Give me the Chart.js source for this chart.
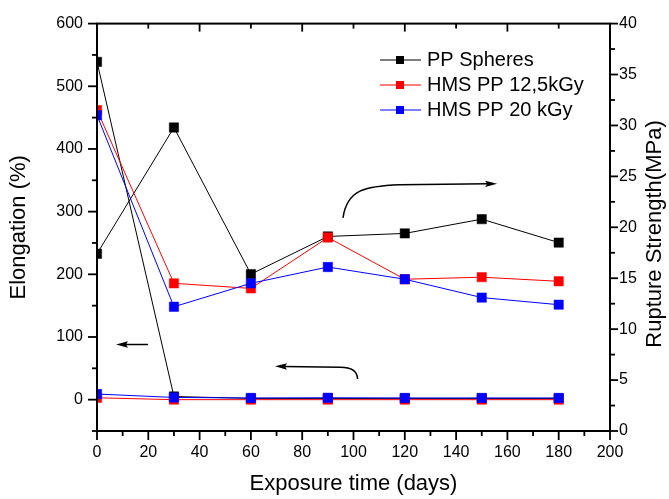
<!DOCTYPE html>
<html>
<head>
<meta charset="utf-8">
<script src="https://cdn.jsdelivr.net/npm/chart.js@4.4.1/dist/chart.umd.min.js"></script>
<style>
    html, body { margin: 0; padding: 0; background: #fff; }
    #wrap { width: 669px; height: 499px; }
</style>
</head>
<body>
<div id="wrap"><canvas id="chart" width="669" height="499"></canvas></div>
<script>
const days = [0, 30, 60, 90, 120, 150, 180];
const materials = ['PP Spheres', 'HMS PP 12,5kGy', 'HMS PP 20 kGy'];
const lineColors = ['#000000', '#ff0000', '#0000ff'];

// Elongation (%), left axis
const elongPP = [539, 5, 2, 2, 2, 2, 2];
const elongHms125 = [3, 0, 0, 0, 0, 0, 0];
const elongHms20 = [9, 3.5, 2.7, 3, 2.7, 2.7, 2.7];

// Rupture strength (MPa), right axis
const strengthPP = [17.4, 29.8, 15.4, 19.1, 19.4, 20.8, 18.5];
const strengthHms125 = [31.5, 14.5, 14.0, 19.0, 14.9, 15.1, 14.7];
const strengthHms20 = [31.0, 12.2, 14.5, 16.1, 14.9, 13.1, 12.4];

const xTicks = [0, 20, 40, 60, 80, 100, 120, 140, 160, 180, 200];
const elongTicks = [0, 100, 200, 300, 400, 500, 600];
const strengthTicks = [0, 5, 10, 15, 20, 25, 30, 35, 40];

// callout arrows, in (days, elongation %) units
const calloutArrows = [
    [[19.9, 88], [7.4, 88]],
    [[101.6, 33], [101.4, 51.7], [94.9, 51.7], [69.4, 53.3]],
    [[95.9, 290], [97.5, 335], [104.5, 341], [118, 343], [156, 344.5]]
];

const FONT = "'Liberation Sans', Arial, Helvetica, sans-serif";

function series(values, i, axis) {
    return {
        label: materials[i],
        data: days.map((d, k) => ({ x: d, y: values[k] })),
        yAxisID: axis,
        borderColor: lineColors[i],
        backgroundColor: lineColors[i],
        pointBorderColor: lineColors[i],
        borderWidth: 1,
        pointStyle: 'rect',
        pointRadius: 6.6,
        pointBorderWidth: 0.5,
        tension: 0,
        order: 2 - i
    };
}

var frameTicks = {
    id: 'frameTicks',
    afterDraw(chart) {
        const { ctx, chartArea: { left, right, top, bottom }, scales: { x, y, y1 } } = chart;
        ctx.save();
        ctx.strokeStyle = '#000';
        ctx.lineWidth = 2;
        ctx.strokeRect(left, top, right - left, bottom - top);

        const tick = (x0, y0, x1, y1p) => {
            ctx.beginPath();
            ctx.moveTo(x0, y0);
            ctx.lineTo(x1, y1p);
            ctx.stroke();
        };
        ctx.lineWidth = 1.8;
        // bottom, outward
        for (let v = 0; v <= 200; v += 10) {
            const p = x.getPixelForValue(v);
            tick(p, bottom, p, bottom + (v % 20 === 0 ? 9 : 5));
        }
        // top, inward
        for (let v = 0; v <= 200; v += 20) {
            const p = x.getPixelForValue(v);
            tick(p, top, p, top + (v % 40 === 0 ? 8 : 5));
        }
        // left, outward
        for (let v = -50; v <= 600; v += 50) {
            const p = y.getPixelForValue(v);
            tick(left, p, left - (v % 100 === 0 ? 9 : 5), p);
        }
        // right, outward
        for (let v = 0; v <= 40; v += 2.5) {
            const p = y1.getPixelForValue(v);
            tick(right, p, right + (v % 5 === 0 ? 8 : 5), p);
        }

        // right axis title, read bottom to top
        ctx.translate(655, 234);
        ctx.rotate(-Math.PI / 2);
        ctx.font = '22px ' + FONT;
        ctx.fillStyle = '#000';
        ctx.textAlign = 'center';
        ctx.textBaseline = 'middle';
        ctx.fillText('Rupture Strength(MPa)', 0, 0);
        ctx.restore();
    }
};

var legendBox = {
    id: 'legendBox',
    afterDraw(chart) {
        const { ctx } = chart;
        ctx.save();
        ctx.font = '20px ' + FONT;
        ctx.textBaseline = 'middle';
        ctx.textAlign = 'left';
        materials.forEach((name, i) => {
            const rowY = 60 + i * 25;
            ctx.strokeStyle = lineColors[i];
            ctx.fillStyle = lineColors[i];
            ctx.lineWidth = 1;
            ctx.beginPath();
            ctx.moveTo(380, rowY);
            ctx.lineTo(421, rowY);
            ctx.stroke();
            ctx.fillRect(396, rowY - 4, 8, 8);
            ctx.fillStyle = '#000';
            ctx.fillText(name, 427, rowY);
        });
        ctx.restore();
    }
};

var arrowNotes = {
    id: 'arrowNotes',
    afterDatasetsDraw(chart) {
        const { ctx, scales: { x, y } } = chart;
        const px = p => [x.getPixelForValue(p[0]), y.getPixelForValue(p[1])];
        ctx.save();
        ctx.strokeStyle = '#000';
        ctx.fillStyle = '#000';
        ctx.lineWidth = 1.5;
        calloutArrows.forEach(a => {
            const pts = a.map(px);
            const tip = pts[pts.length - 1];
            const prev = pts[pts.length - 2];
            const ang = Math.atan2(tip[1] - prev[1], tip[0] - prev[0]);
            const len = 12, half = 3.2;
            const bx = tip[0] - len * Math.cos(ang), by = tip[1] - len * Math.sin(ang);

            ctx.beginPath();
            ctx.moveTo(pts[0][0], pts[0][1]);
            if (pts.length === 5) {
                ctx.bezierCurveTo(pts[1][0], pts[1][1], pts[2][0], pts[2][1], pts[3][0], pts[3][1]);
            } else if (pts.length === 4) {
                ctx.quadraticCurveTo(pts[1][0], pts[1][1], pts[2][0], pts[2][1]);
            }
            ctx.lineTo(bx + 3 * Math.cos(ang), by + 3 * Math.sin(ang));
            ctx.stroke();

            ctx.beginPath();
            ctx.moveTo(tip[0], tip[1]);
            ctx.lineTo(bx - half * Math.sin(ang), by + half * Math.cos(ang));
            ctx.lineTo(bx + 2 * Math.cos(ang), by + 2 * Math.sin(ang));
            ctx.lineTo(bx + half * Math.sin(ang), by - half * Math.cos(ang));
            ctx.closePath();
            ctx.fill();
        });
        ctx.restore();
    }
};

const tickFont = { family: FONT, size: 16 };
const titleFont = { family: FONT, size: 22 };

var config = {
    type: 'line',
    data: {
        datasets: [
            series(elongPP, 0, 'y'),
            series(strengthPP, 0, 'y1'),
            series(elongHms125, 1, 'y'),
            series(strengthHms125, 1, 'y1'),
            series(elongHms20, 2, 'y'),
            series(strengthHms20, 2, 'y1')
        ]
    },
    options: {
        responsive: false,
        animation: false,
        layout: { padding: { top: 16, left: 0, right: 0, bottom: 0 } },
        plugins: {
            legend: { display: false },
            tooltip: { enabled: false }
        },
        scales: {
            x: {
                type: 'linear',
                min: 0,
                max: 200,
                afterBuildTicks: s => { s.ticks = xTicks.map(v => ({ value: v })); },
                afterFit: s => { s.height = 68; },
                grid: { display: false, drawTicks: false },
                border: { display: false },
                ticks: { font: tickFont, color: '#000', padding: 12, maxRotation: 0, autoSkip: false },
                title: {
                    display: true,
                    text: 'Exposure time (days)',
                    font: titleFont,
                    color: '#000',
                    padding: { top: 0, bottom: 2 }
                }
            },
            y: {
                type: 'linear',
                position: 'left',
                min: -50,
                max: 600,
                afterBuildTicks: s => { s.ticks = elongTicks.map(v => ({ value: v })); },
                afterFit: s => { s.width = 97; },
                grid: { display: false, drawTicks: false },
                border: { display: false },
                ticks: { font: tickFont, color: '#000', padding: 14, autoSkip: false },
                title: {
                    display: true,
                    text: 'Elongation (%)',
                    font: titleFont,
                    color: '#000',
                    padding: { top: 6, bottom: 0 }
                }
            },
            y1: {
                type: 'linear',
                position: 'right',
                min: 0,
                max: 40,
                afterBuildTicks: s => { s.ticks = strengthTicks.map(v => ({ value: v })); },
                afterFit: s => { s.width = 59; },
                grid: { display: false, drawTicks: false },
                border: { display: false },
                ticks: { font: tickFont, color: '#000', padding: 9, autoSkip: false }
            }
        }
    },
    plugins: [frameTicks, legendBox, arrowNotes]
};

new Chart(document.getElementById('chart'), config);
</script>
</body>
</html>
